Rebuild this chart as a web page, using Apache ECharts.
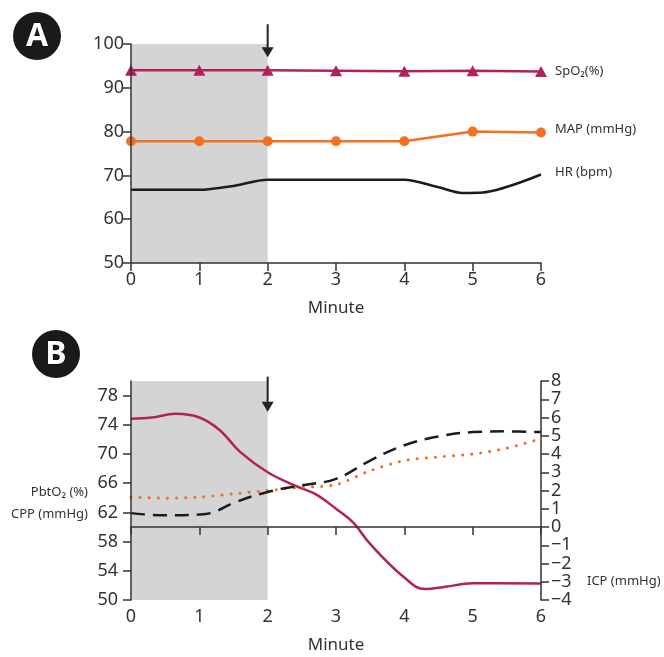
<!DOCTYPE html>
<html lang="en">
<head>
    <meta charset="UTF-8">
    <title>Vitals</title>
    <script src="https://cdn.jsdelivr.net/npm/echarts@6/dist/echarts.min.js"></script>
    <style>
        body { margin: 0; background: #fff; }
    </style>
</head>
<body>
<div id="main" style="width: 664px;height:657px;"></div>
<script type="text/javascript">
    // panel A: every minute
    const minutes = [0, 1, 2, 3, 4, 5, 6];
    const spo2 = [94, 94, 94, 93.9, 93.8, 93.9, 93.7];
    const map = [77.8, 77.8, 77.8, 77.8, 77.8, 80, 79.8];
    // HR is a traced curve
    const hrX = [0, 1, 1.5, 2, 4, 4.5, 4.85, 5.15, 6];
    const hr = [66.7, 66.7, 67.6, 69, 69, 67.3, 66, 66.1, 70.2];

    // panel B
    const icpX = [0, 0.3, 0.65, 1, 1.3, 1.6, 2, 2.4, 2.7, 3, 3.25, 3.5, 4, 4.3, 4.6, 5, 6];
    const icp = [5.93, 6.0, 6.2, 6.0, 5.3, 4.1, 3.0, 2.27, 1.8, 1.0, 0.25, -0.93, -2.77, -3.4, -3.28, -3.08, -3.1];
    const pbtX = [0, 0.5, 1, 1.5, 2, 2.5, 3, 3.5, 4, 4.5, 5, 5.5, 6];
    const pbt = [64.1, 63.95, 64.1, 64.55, 65.0, 65.45, 65.8, 67.7, 69.1, 69.6, 70.0, 70.8, 72.1];
    const cppX = [0, 0.5, 1, 1.2, 1.5, 2, 2.5, 3, 3.5, 4, 4.5, 5, 5.5, 6];
    const cpp = [61.9, 61.6, 61.7, 62.0, 63.3, 64.8, 65.7, 66.6, 69.1, 71.2, 72.4, 73.0, 73.1, 73.0];

    const leftTicksB = [50, 54, 58, 62, 66, 70, 74, 78];
    const shadeRange = [0, 2];
    // arrow: [minute, top, tip] in axis units
    const arrowA = [2, 104.5, 97];
    const arrowB = [2, 80.6, 75.8];

    const FONT = '"Noto Sans", "DejaVu Sans", sans-serif';
    const AXIS = '#333';
    const CRIMSON = '#b0225c';
    const ORANGE = '#f37021';
    const BLACK = '#1c1c1c';
    const SHADE = '#d4d4d4';

    function pairs(xs, ys) {
        return xs.map(function (x, i) { return [x, ys[i]]; });
    }

    function xAxisFor(gridIndex) {
        return {
            type: 'value', gridIndex: gridIndex, min: 0, max: 6, interval: 1, z: 10,
            name: 'Minute', nameLocation: 'middle', nameGap: 37,
            nameTextStyle: {fontSize: 17, color: AXIS, fontFamily: FONT},
            axisLine: {show: true, lineStyle: {color: AXIS, width: 1.5}},
            axisTick: {show: true, length: 8, lineStyle: {color: AXIS, width: 1.5}},
            axisLabel: {fontSize: 18, color: AXIS, fontFamily: FONT, margin: 8},
            splitLine: {show: false}
        };
    }

    const endLabel = function (text, offsetY, dist) {
        return {
            show: true, formatter: text, distance: dist, offset: [0, offsetY],
            fontSize: 13, color: AXIS, fontFamily: FONT
        };
    };

    const myChart = echarts.init(document.getElementById('main'));
    myChart.setOption({
        animation: false,
        grid: [
            {left: 131, top: 44, width: 410, height: 219},
            {left: 131, top: 381, width: 410, height: 219}
        ],
        xAxis: [xAxisFor(0), xAxisFor(1)],
        yAxis: [
            {
                type: 'value', gridIndex: 0, min: 50, max: 100, interval: 10, z: 10,
                axisLine: {show: true, lineStyle: {color: AXIS, width: 1.5}},
                axisTick: {show: true, length: 8, lineStyle: {color: AXIS, width: 1.5}},
                axisLabel: {fontSize: 18, color: AXIS, fontFamily: FONT, margin: 7},
                splitLine: {show: false}
            },
            {
                type: 'value', gridIndex: 1, min: 50, max: 80, z: 10,
                axisLine: {show: true, lineStyle: {color: AXIS, width: 1.5}},
                axisTick: {show: true, length: 8, customValues: leftTicksB, lineStyle: {color: AXIS, width: 1.5}},
                axisLabel: {fontSize: 18, color: AXIS, fontFamily: FONT, margin: 13, customValues: leftTicksB},
                splitLine: {show: false}
            },
            {
                type: 'value', gridIndex: 1, position: 'right', min: -4, max: 8, interval: 1, z: 10,
                axisLine: {show: true, lineStyle: {color: AXIS, width: 1.5}},
                axisTick: {show: true, length: 8, lineStyle: {color: AXIS, width: 1.5}},
                axisLabel: {
                    fontSize: 18, color: AXIS, fontFamily: FONT, margin: 10,
                    formatter: function (v) { return String(v).replace('-', '\u2212'); }
                },
                splitLine: {show: false}
            }
        ],
        series: [
            {
                type: 'line', xAxisIndex: 0, yAxisIndex: 0, data: [], z: 1,
                markArea: {silent: true, itemStyle: {color: SHADE},
                    data: [[{xAxis: shadeRange[0]}, {xAxis: shadeRange[1]}]]}
            },
            {
                type: 'line', xAxisIndex: 1, yAxisIndex: 1, data: [], z: 1,
                markArea: {silent: true, itemStyle: {color: SHADE},
                    data: [[{xAxis: shadeRange[0]}, {xAxis: shadeRange[1]}]]}
            },
            {
                name: 'SpO2', type: 'line', xAxisIndex: 0, yAxisIndex: 0, z: 5,
                data: pairs(minutes, spo2),
                symbol: 'triangle', symbolSize: [12, 11],
                lineStyle: {color: CRIMSON, width: 2.5},
                itemStyle: {color: CRIMSON},
                endLabel: endLabel('SpO\u2082(%)', 0, 14)
            },
            {
                name: 'MAP', type: 'line', xAxisIndex: 0, yAxisIndex: 0, z: 5,
                data: pairs(minutes, map),
                symbol: 'circle', symbolSize: 10,
                lineStyle: {color: ORANGE, width: 2.5},
                itemStyle: {color: ORANGE},
                endLabel: endLabel('MAP (mmHg)', -3, 14)
            },
            {
                name: 'HR', type: 'line', xAxisIndex: 0, yAxisIndex: 0, z: 5,
                data: pairs(hrX, hr), smooth: 0.3,
                showSymbol: false, symbol: 'none',
                lineStyle: {color: BLACK, width: 2.5},
                endLabel: endLabel('HR (bpm)', -2, 14)
            },
            {
                name: 'ICP', type: 'line', xAxisIndex: 1, yAxisIndex: 2, z: 5,
                data: pairs(icpX, icp), smooth: 0.4,
                showSymbol: false, symbol: 'none',
                lineStyle: {color: CRIMSON, width: 2.5},
                endLabel: endLabel('ICP (mmHg)', -2, 46)
            },
            {
                name: 'PbtO2', type: 'line', xAxisIndex: 1, yAxisIndex: 1, z: 5,
                data: pairs(pbtX, pbt), smooth: 0.3,
                showSymbol: false, symbol: 'none',
                lineStyle: {color: ORANGE, width: 3, type: [0.1, 9], cap: 'round'}
            },
            {
                name: 'CPP', type: 'line', xAxisIndex: 1, yAxisIndex: 1, z: 5,
                data: pairs(cppX, cpp), smooth: 0.4,
                showSymbol: false, symbol: 'none',
                lineStyle: {color: BLACK, width: 2.5, type: [14, 8]}
            }
        ]
    });

    // annotations placed through the axes
    function arrow(gridIndex, a) {
        const top = myChart.convertToPixel({gridIndex: gridIndex}, [a[0], a[1]]);
        const tip = myChart.convertToPixel({gridIndex: gridIndex}, [a[0], a[2]]);
        return [
            {type: 'line', z: 20, shape: {x1: top[0], y1: top[1], x2: tip[0], y2: tip[1] - 8},
                style: {stroke: '#222', lineWidth: 2}},
            {type: 'polygon', z: 20, shape: {points: [[tip[0] - 6, tip[1] - 10], [tip[0] + 6, tip[1] - 10], [tip[0], tip[1]]]},
                style: {fill: '#222'}}
        ];
    }

    function badge(cx, cy, letter) {
        return [
            {type: 'circle', z: 20, shape: {cx: cx, cy: cy, r: 24}, style: {fill: '#1a1a1a'}},
            {type: 'text', z: 21, x: cx, y: cy + 1, style: {
                text: letter, fill: '#fff', stroke: '#000', lineWidth: 1,
                font: 'bold 32px ' + FONT, align: 'center', verticalAlign: 'middle'}}
        ];
    }

    const pStart = myChart.convertToPixel({gridIndex: 1}, [pbtX[0], pbt[0]]);
    const cStart = myChart.convertToPixel({gridIndex: 1}, [cppX[0], cpp[0]]);

    myChart.setOption({
        graphic: [].concat(
            arrow(0, arrowA),
            arrow(1, arrowB),
            badge(37, 36, 'A'),
            badge(56, 354, 'B'),
            [
                {type: 'text', z: 20, x: pStart[0] - 43, y: pStart[1] - 5, style: {
                    text: 'PbtO\u2082 (%)', fill: AXIS, font: '13px ' + FONT, align: 'right', verticalAlign: 'middle'}},
                {type: 'text', z: 20, x: cStart[0] - 43, y: cStart[1] + 1, style: {
                    text: 'CPP (mmHg)', fill: AXIS, font: '13px ' + FONT, align: 'right', verticalAlign: 'middle'}}
            ]
        )
    });
</script>
</body>
</html>
